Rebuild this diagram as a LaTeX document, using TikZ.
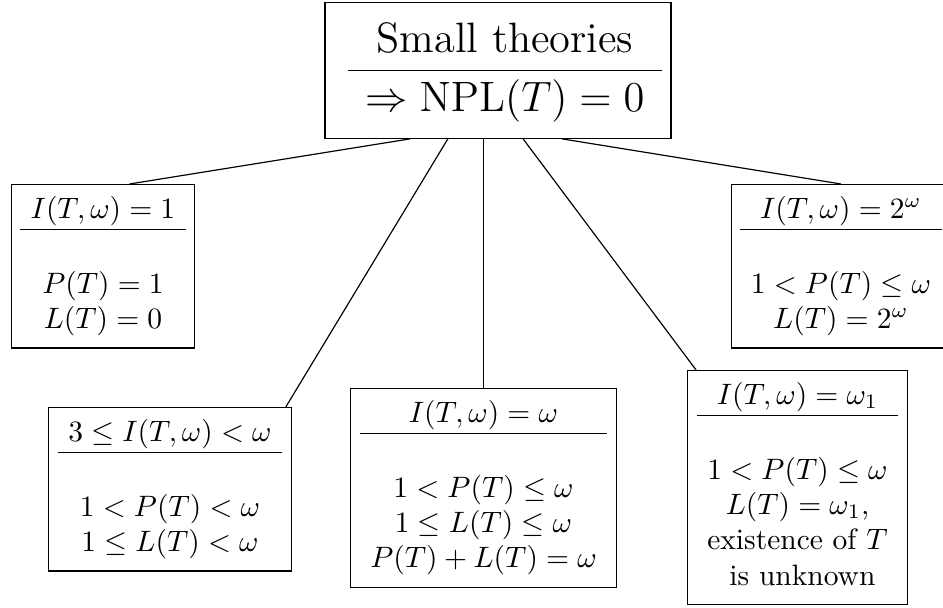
\documentclass[tikz,border=0pt]{standalone}
\usepackage{amsmath, amssymb}
\usepackage{tikz}
\setlength{\tabcolsep}{3.6pt}

\begin{document}
\begin{tikzpicture}[x=0.339pt, y=-0.339pt,
				box/.style={draw, inner sep=3pt, anchor=north},
				link/.style={draw, line width=0.4pt}
			]
			\useasboundingbox (0,0) rectangle (943,608);

			\node[box, font=\Large] (top) at (498,2) {\ \setlength{\tabcolsep}{6pt}\renewcommand\arraystretch{1.1}\begin{tabular}{c}
				Small theories\\ \hline
				$\Rightarrow \mathrm{NPL}(T)=0$
			\end{tabular}};

			\node[box] (one) at (103,184) {\begin{tabular}{c}
				$I(T,\omega)=1$\\ \hline \\[1pt]
				$P(T)=1$\\
				$L(T)=0$
			\end{tabular}};
			\node[box] (two) at (170,407) {\begin{tabular}{c}
				$3\leq I(T,\omega)<\omega$\\ \hline \\[1pt]
				$1<P(T)<\omega$\\
				$1\leq L(T)<\omega$
			\end{tabular}};
			\node[box] (three) at (483.5,388) {\begin{tabular}{c}
				$I(T,\omega)=\omega$\\ \hline \\[1pt]
				$1<P(T)\leq\omega$\\
				$1\leq L(T)\leq\omega$\\
				$P(T)+L(T)=\omega$
			\end{tabular}};
			\node[box] (four) at (797.5,370) {\begin{tabular}{c}
				$I(T,\omega)=\omega_1$\\ \hline \\[1pt]
				$1<P(T)\leq\omega$\\
				$L(T)=\omega_1$,\\
				existence of $T$\\
				\ is unknown
			\end{tabular}};
			\node[box] (five) at (841,184) {\begin{tabular}{c}
				$I(T,\omega)=2^\omega$\\ \hline \\[1pt]
				$1<P(T)\leq\omega$\\
				$L(T)=2^\omega$
			\end{tabular}};

			\draw[link] ([xshift=-29.8pt]top.south) -- ([xshift=9pt]one.north);
			\draw[link] ([xshift=-17pt]top.south) -- ([xshift=-2pt]two.north east);
			\draw[link] (three.north |- top.south) -- (three.north);
			\draw[link] ([xshift=8.5pt]top.south) -- ([xshift=3pt]four.north west);
			\draw[link] ([xshift=21.7pt]top.south) -- (five.north);
		\end{tikzpicture}
\end{document}
